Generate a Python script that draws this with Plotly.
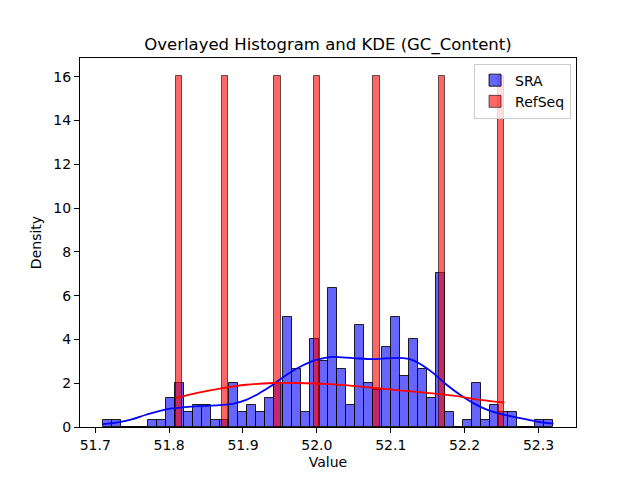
import plotly.graph_objects as go

# ---- data ----
# SRA histogram (50 bins, stat=density)
sra_bin_start = 51.7099
sra_bin_width = 0.012208
sra_density = [0.33, 0.33, 0, 0, 0, 0.33, 0.33, 1.34, 2.0, 0.67,
               1.0, 1.0, 0.33, 0.33, 2.0, 0.67, 1.0, 0.67, 1.34, 2.0,
               5.01, 2.67, 0.67, 4.01, 3.0, 6.35, 2.67, 1.0, 4.68, 2.0,
               1.67, 3.67, 5.01, 2.34, 4.01, 2.67, 1.34, 7.02, 0.67, 0,
               0.33, 2.0, 0.33, 1.0, 0.67, 0.67, 0, 0, 0.33, 0.33]

# RefSeq histogram bars (one value per bar)
refseq_values = [51.8134, 51.8757, 51.9469, 52.0003, 52.0804, 52.1694, 52.2495]
refseq_density = [16.05, 16.05, 16.05, 16.05, 16.05, 16.05, 16.05]
refseq_bin_width = 0.0089

# KDE curves
sra_kde_x = [51.7099, 51.7326, 51.7506, 51.7688, 51.7959, 51.8184, 51.8411, 51.8682,
             51.8862, 51.9044, 51.9225, 51.9405, 51.9587, 51.9767, 51.9948, 52.0129,
             52.0219, 52.0490, 52.0762, 52.1124, 52.1259, 52.1395, 52.1576, 52.1757,
             52.1938, 52.2118, 52.2300, 52.2525, 52.2751, 52.2978, 52.3203]
sra_kde_y = [0.13, 0.22, 0.36, 0.56, 0.81, 0.90, 0.95, 1.00,
             1.06, 1.24, 1.55, 1.93, 2.38, 2.74, 3.02, 3.17,
             3.20, 3.15, 3.10, 3.16, 3.10, 2.89, 2.46, 1.93,
             1.47, 1.09, 0.79, 0.56, 0.41, 0.25, 0.15]

refseq_kde_x = [51.8089, 51.8366, 51.8727, 51.9044, 51.9405, 51.9722, 52.0174,
                52.0490, 52.0943, 52.1395, 52.1847, 52.2209, 52.2539]
refseq_kde_y = [1.32, 1.55, 1.78, 1.93, 2.01, 2.01, 1.96,
                1.88, 1.73, 1.59, 1.43, 1.24, 1.12]

x_ticks = [51.7, 51.8, 51.9, 52.0, 52.1, 52.2, 52.3]
y_ticks = [0, 2, 4, 6, 8, 10, 12, 14, 16]

sra_centers = [sra_bin_start + (i + 0.5) * sra_bin_width for i in range(len(sra_density))]

FONT = "DejaVu Sans"
fig = go.Figure()

fig.add_trace(go.Bar(
    x=sra_centers, y=sra_density, width=sra_bin_width, name="SRA",
    marker=dict(color="rgba(0,0,255,0.6)", line=dict(color="rgba(0,0,0,0.85)", width=1)),
))
fig.add_trace(go.Scatter(
    x=sra_kde_x, y=sra_kde_y, mode="lines", line=dict(color="blue", width=1.8, shape="spline"),
    showlegend=False, hoverinfo="skip",
))
fig.add_trace(go.Bar(
    x=refseq_values, y=refseq_density, width=refseq_bin_width, name="RefSeq",
    marker=dict(color="rgba(255,0,0,0.6)", line=dict(color="rgba(0,0,0,0.6)", width=1)),
))
fig.add_trace(go.Scatter(
    x=refseq_kde_x, y=refseq_kde_y, mode="lines", line=dict(color="red", width=1.8, shape="spline"),
    showlegend=False, hoverinfo="skip",
))

axis_common = dict(
    showline=True, linecolor="black", linewidth=1, mirror=True,
    ticks="outside", ticklen=5, tickcolor="black", tickwidth=1,
    showgrid=False, zeroline=False,
    tickfont=dict(family=FONT, size=14, color="black"),
)

fig.update_layout(
    width=640, height=480,
    margin=dict(l=80, r=64, t=58, b=53),
    paper_bgcolor="white", plot_bgcolor="white",
    barmode="overlay", bargap=0,
    title=dict(text="Overlayed Histogram and KDE (GC_Content)", x=0.5, xref="paper",
               xanchor="center", y=1 - 44 / 480, yanchor="middle",
               font=dict(family=FONT, size=16.5, color="black")),
    xaxis=dict(range=[51.6794, 52.3508], tickvals=x_ticks, ticktext=[f"{v:.1f}" for v in x_ticks],
               title=dict(text="Value", font=dict(family=FONT, size=14, color="black"), standoff=5),
               **axis_common),
    yaxis=dict(range=[0, 16.86], tickvals=y_ticks,
               title=dict(text="Density", font=dict(family=FONT, size=14, color="black"), standoff=8),
               **axis_common),
    legend=dict(x=0.99, xanchor="right", y=0.985, yanchor="top",
                bgcolor="rgba(255,255,255,0.8)", bordercolor="#cccccc", borderwidth=1,
                font=dict(family=FONT, size=14, color="black"), tracegroupgap=0,
                itemwidth=30),
    showlegend=True,
)

fig.write_html("out.html")
